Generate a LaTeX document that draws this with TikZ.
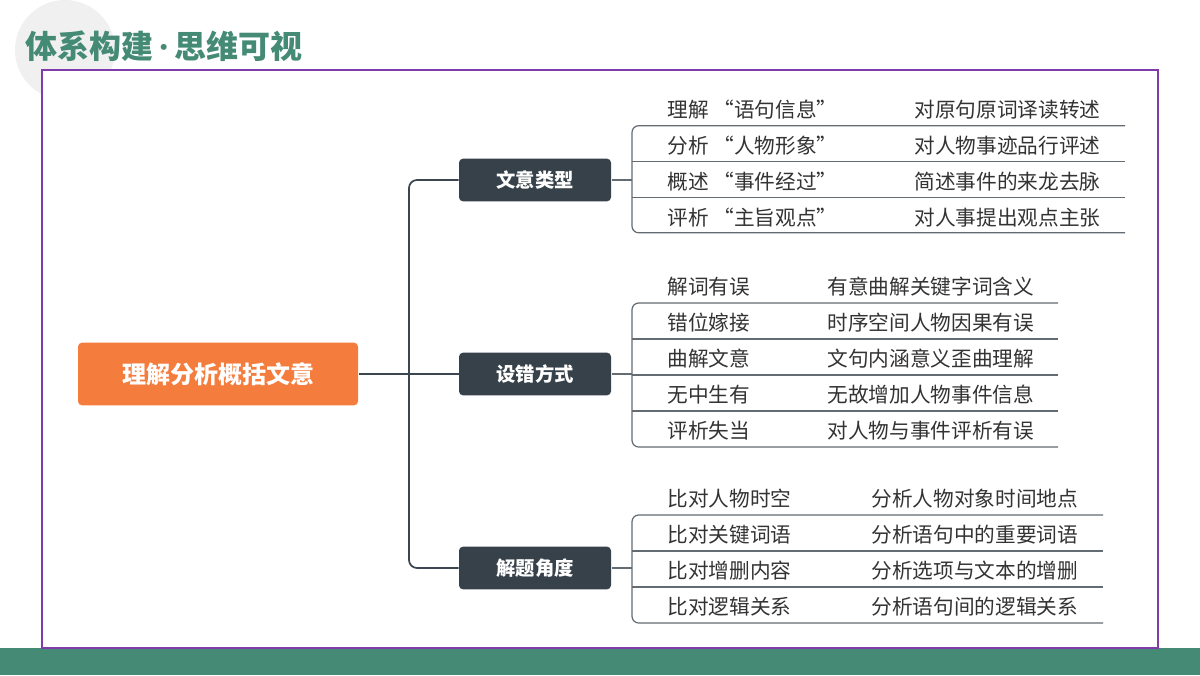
\documentclass[tikz,border=0pt]{standalone}
\usepackage{fontspec}
\setmainfont{Noto Sans CJK SC}
\usetikzlibrary{positioning}
\definecolor{frame}{RGB}{128,60,170}
\definecolor{band}{RGB}{68,138,116}
\definecolor{boxdark}{RGB}{55,65,74}
\definecolor{boxorange}{RGB}{244,124,60}
\definecolor{linedark}{RGB}{60,70,80}
\tikzset{every picture/.style={line width=0.75pt},
  branch/.style={fill=boxdark,rounded corners=3pt,minimum width=114pt,minimum height=32pt,text=white,font=\fontsize{14.5}{14.5}\selectfont\bfseries,inner sep=0pt},
  item/.style={anchor=west,inner sep=0.75pt,font=\fontsize{15.5}{15.5}\selectfont,text=black!80},
  wire/.style={draw=linedark,line width=1.3pt,rounded corners=6pt},
  rule/.style={draw=linedark!80,line width=0.9pt,rounded corners=5pt}}

\begin{document}
\begin{tikzpicture}[x=0.75pt,y=0.75pt,yscale=-1,xscale=1]
\useasboundingbox (0,0) rectangle (1200,675);

% background, title, frame
\fill[black!6] (65,50) circle (50);
\fill[band] (0,648) rectangle (1200,675);
\draw[frame,line width=1pt,fill=white] (42,70) rectangle (1158,648);
\node (title) [anchor=west,inner sep=0pt,text=band,font=\fontsize{24}{24}\selectfont\bfseries] at (25,46) {体系构建\raisebox{2pt}{\fontsize{16}{16}\selectfont•}思维可视};

% root and branches
\node (root) [fill=boxorange,rounded corners=3pt,minimum width=210pt,minimum height=47pt,text=white,font=\fontsize{18}{18}\selectfont\bfseries,inner sep=0pt] at (218,374) {理解分析概括文意};
\node (b1) [branch] at (535,180) {文意类型};
\node (b2) [branch] at (535,374) {设错方式};
\node (b3) [branch] at (535,568) {解题角度};
\coordinate (trunk) at (409,374);
\draw[wire] (root.east) -- (b2.west);
\draw[wire] (b1.west) -| (trunk) |- (b3.west);

% group 1
\foreach \i/\a/\b in {1/理解\ “语句信息”/对原句原词译读转述,2/分析\ “人物形象”/对人物事迹品行评述,3/概述\ “事件经过”/简述事件的来龙去脉,4/评析\ “主旨观点”/对人事提出观点主张}{
  \node (g1l\i) [item] at (666,74+36*\i) {\a};
  \node (g1r\i) [item] at (913,74+36*\i) {\b};
  \coordinate (g1s\i) at (632,90+35.7*\i);
  \coordinate (g1e\i) at (1125,90+35.7*\i);
}
\draw[rule] (b1.east) -- (632,180);
\draw[rule] (g1e1) -- (g1s1) -- (g1s4) -- (g1e4);
\draw[rule] (g1s2) -- (g1e2);
\draw[rule] (g1s3) -- (g1e3);

% group 2
\foreach \i/\a/\b in {1/解词有误/有意曲解关键字词含义,2/错位嫁接/时序空间人物因果有误,3/曲解文意/文句内涵意义歪曲理解,4/无中生有/无故增加人物事件信息,5/评析失当/对人物与事件评析有误}{
  \node (g2l\i) [item] at (666,251+36*\i) {\a};
  \node (g2r\i) [item] at (826,251+36*\i) {\b};
  \coordinate (g2s\i) at (632,267+36*\i);
  \coordinate (g2e\i) at (1058,267+36*\i);
}
\draw[rule] (b2.east) -- (632,374);
\draw[rule] (g2e1) -- (g2s1) -- (g2s5) -- (g2e5);
\foreach \i in {2,3,4}{\draw[rule] (g2s\i) -- (g2e\i);}

% group 3
\foreach \i/\a/\b in {1/比对人物时空/分析人物对象时间地点,2/比对关键词语/分析语句中的重要词语,3/比对增删内容/分析选项与文本的增删,4/比对逻辑关系/分析语句间的逻辑关系}{
  \node (g3l\i) [item] at (666,463+36*\i) {\a};
  \node (g3r\i) [item] at (870,463+36*\i) {\b};
  \coordinate (g3s\i) at (632,479+36*\i);
  \coordinate (g3e\i) at (1103,479+36*\i);
}
\draw[rule] (b3.east) -- (632,568);
\draw[rule] (g3e1) -- (g3s1) -- (g3s4) -- (g3e4);
\draw[rule] (g3s2) -- (g3e2);
\draw[rule] (g3s3) -- (g3e3);
\end{tikzpicture}
\end{document}
